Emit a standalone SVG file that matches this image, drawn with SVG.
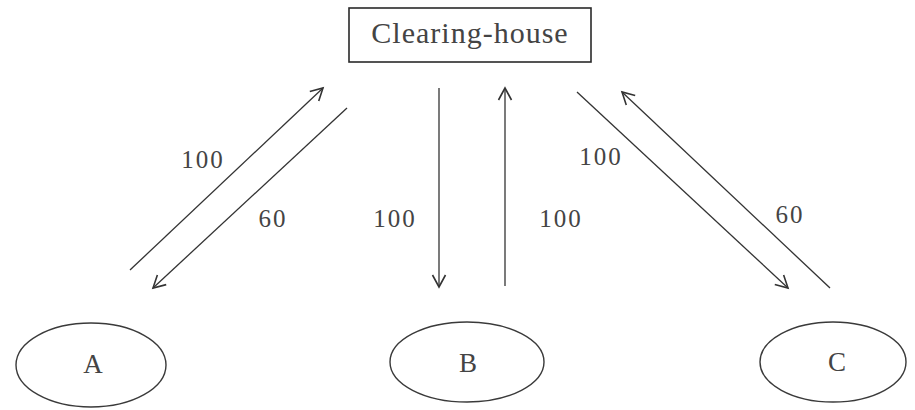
<svg xmlns="http://www.w3.org/2000/svg" width="915" height="410" viewBox="0 0 915 410">
  <style>
    .frame { fill: #fff; stroke: #2a2a2a; stroke-width: 1.6; }
    .party { fill: none; stroke: #3a3a3a; stroke-width: 1.4; }
    .flow { fill: none; stroke: #333; stroke-width: 1.3; marker-end: url(#head); }
    .lbl { font-family: "Liberation Serif", "DejaVu Serif", serif; fill: #444; }
    .title { font-size: 30px; letter-spacing: 1px; }
    .amt { font-size: 25px; letter-spacing: 2px; }
    .node { font-size: 27px; }
  </style>
  <defs>
    <marker id="head" markerUnits="userSpaceOnUse" markerWidth="30" markerHeight="30" viewBox="-15 -15 30 30" refX="0" refY="0" orient="auto">
      <path d="M-12,-6.5 L0,0 L-12,6.5" fill="none" stroke="#333" stroke-width="1.6"/>
    </marker>
  </defs>
  <rect width="915" height="410" fill="#fff"/>

  <g id="clearing-house">
    <rect class="frame" x="349" y="8" width="242" height="54"/>
    <text class="lbl title" x="470" y="43" text-anchor="middle">Clearing-house</text>
  </g>

  <g id="party-a">
    <ellipse class="party" cx="91" cy="365" rx="75" ry="42"/>
    <text class="lbl node" x="93" y="373" text-anchor="middle">A</text>
  </g>

  <g id="party-b">
    <ellipse class="party" cx="467" cy="362" rx="77" ry="40"/>
    <text class="lbl node" x="468" y="372" text-anchor="middle">B</text>
  </g>

  <g id="party-c">
    <ellipse class="party" cx="833" cy="362" rx="73" ry="40"/>
    <text class="lbl node" x="837" y="371" text-anchor="middle">C</text>
  </g>

  <g id="connectors">
    <!-- A <-> clearing-house -->
    <line class="flow" x1="130" y1="270" x2="323" y2="88"/>
    <line class="flow" x1="347" y1="108" x2="153" y2="288"/>
    <!-- B <-> clearing-house -->
    <line class="flow" x1="439" y1="88" x2="439" y2="287"/>
    <line class="flow" x1="505" y1="286" x2="505" y2="88"/>
    <!-- C <-> clearing-house -->
    <line class="flow" x1="577" y1="92" x2="788" y2="288"/>
    <line class="flow" x1="830" y1="288" x2="622" y2="92"/>

    <text class="lbl amt" x="203" y="168" text-anchor="middle">100</text>
    <text class="lbl amt" x="273" y="227" text-anchor="middle">60</text>
    <text class="lbl amt" x="395" y="227" text-anchor="middle">100</text>
    <text class="lbl amt" x="561" y="227" text-anchor="middle">100</text>
    <text class="lbl amt" x="601" y="165" text-anchor="middle">100</text>
    <text class="lbl amt" x="790" y="223" text-anchor="middle">60</text>
  </g>
</svg>
